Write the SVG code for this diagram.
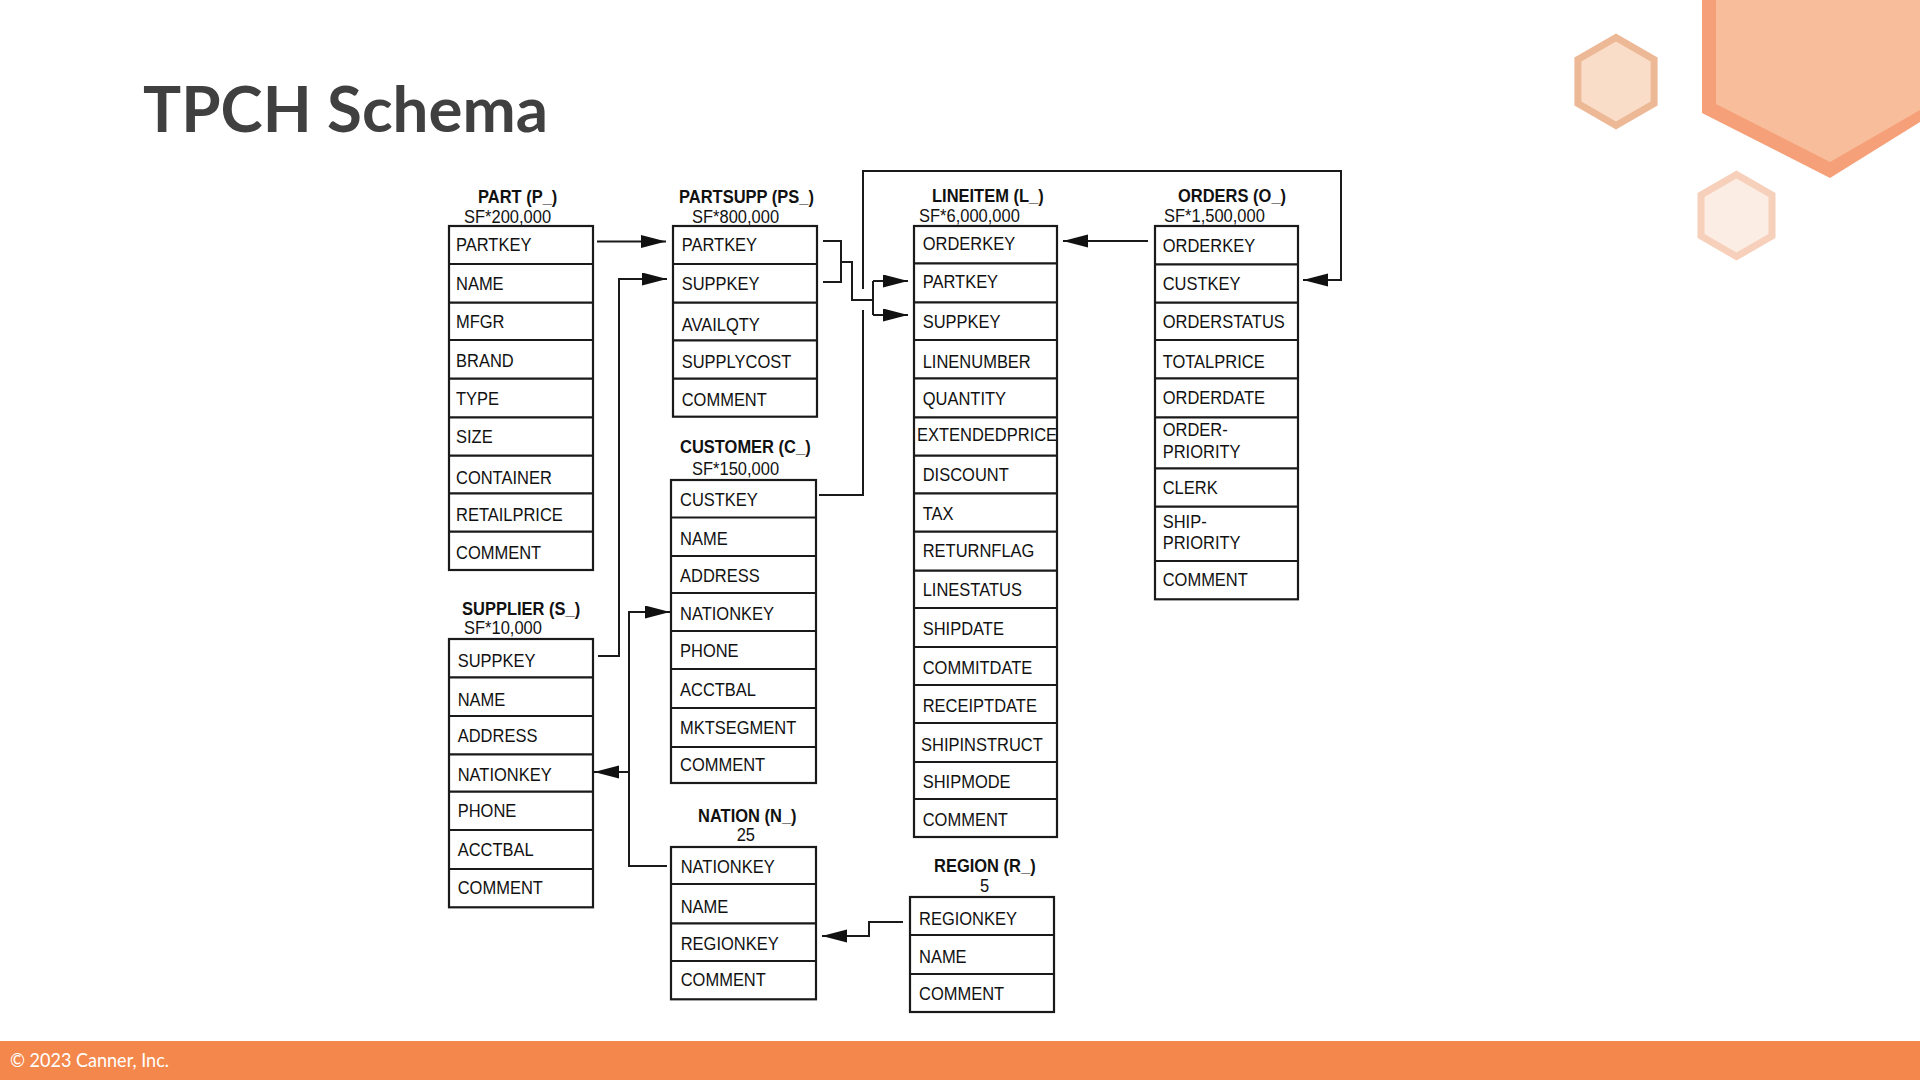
<svg xmlns="http://www.w3.org/2000/svg" width="1920" height="1080" viewBox="0 0 1920 1080">
<defs>
<style>
.t{font-family:"Liberation Sans",Arial,Helvetica,sans-serif;font-size:16.5px;fill:#111;transform-box:fill-box;transform-origin:0 100%;transform:scaleY(1.12)}
.h{font-weight:bold}
.box{fill:#fff;stroke:#1a1a1a;stroke-width:2.2}
.sep{stroke:#1a1a1a;stroke-width:2.2}
.c{fill:none;stroke:#1a1a1a;stroke-width:2}
.a{marker-end:url(#ah)}
</style>
<marker id="ah" markerUnits="userSpaceOnUse" markerWidth="26" markerHeight="14" refX="25" refY="6.5" orient="auto"><path d="M0,0 L25,6.5 L0,13 Z" fill="#111"/></marker>
</defs>
<rect width="1920" height="1080" fill="#fff"/>
<g id="decor">
<polygon points="1702,0 1702,113 1830,178 1920,122 1920,0" fill="#F5A078"/>
<polygon points="1716,0 1716,104 1830,162 1920,110 1920,0" fill="#F8BE9C"/>
<polygon points="1616,37.5 1654.1,59.5 1654.1,103.5 1616,125.5 1577.9,103.5 1577.9,59.5" fill="#FADDC9" stroke="#EDB895" stroke-width="7"/>
<polygon points="1736.5,174.5 1772,195 1772,236 1736.5,256.5 1701,236 1701,195" fill="#FCEDE4" stroke="#F6D0BA" stroke-width="7"/>
</g>
<text x="143" y="132" font-family="Lato,'Open Sans',sans-serif" font-weight="700" font-size="63" fill="#404040" textLength="405" lengthAdjust="spacingAndGlyphs">TPCH Schema</text>
<g id="connectors">
<path class="c a" d="M597,241.5 H666"/>
<path class="c a" d="M598,656 H619 V279 H667"/>
<path class="c" d="M823,241 H841 V282 H823 M841,262 H852 V300 H873 M873,281 V315"/>
<path class="c a" d="M873,281 H908"/>
<path class="c a" d="M873,315 H908"/>
<path class="c" d="M819,495 H863 V310"/>
<path class="c a" d="M863,289 V171 H1341 V280 H1303"/>
<path class="c a" d="M1148,241 H1063"/>
<path class="c a" d="M667,866 H629 V612 H670"/>
<path class="c a" d="M629,772 H594"/>
<path class="c a" d="M903,922 H869 V936 H822"/>
</g>
<g id="part">
<text class="t h" x="478" y="203">PART (P_)</text>
<text class="t" x="464" y="223">SF*200,000</text>
<rect class="box" x="449" y="226" width="144" height="344"/>
<path class="sep" d="M449,264H593M449,302.7H593M449,340H593M449,378.7H593M449,417.3H593M449,455.7H593M449,493.3H593M449,531.7H593"/>
<text class="t" x="456" y="251.7">PARTKEY</text>
<text class="t" x="456" y="290">NAME</text>
<text class="t" x="456" y="328.3">MFGR</text>
<text class="t" x="456" y="367.7">BRAND</text>
<text class="t" x="456" y="405">TYPE</text>
<text class="t" x="456" y="443.3">SIZE</text>
<text class="t" x="456" y="484.3">CONTAINER</text>
<text class="t" x="456" y="521">RETAILPRICE</text>
<text class="t" x="456" y="559.3">COMMENT</text>
</g>
<g id="partsupp">
<text class="t h" x="679" y="203">PARTSUPP (PS_)</text>
<text class="t" x="692" y="223">SF*800,000</text>
<rect class="box" x="673" y="226" width="144" height="190.7"/>
<path class="sep" d="M673,264H817M673,302.7H817M673,340.3H817M673,378.7H817"/>
<text class="t" x="681.7" y="251.7">PARTKEY</text>
<text class="t" x="681.7" y="290">SUPPKEY</text>
<text class="t" x="681.7" y="331.7">AVAILQTY</text>
<text class="t" x="681.7" y="368.3">SUPPLYCOST</text>
<text class="t" x="681.7" y="406.7">COMMENT</text>
</g>
<g id="customer">
<text class="t h" x="680" y="453">CUSTOMER (C_)</text>
<text class="t" x="692" y="475">SF*150,000</text>
<rect class="box" x="671" y="480" width="145" height="303"/>
<path class="sep" d="M671,517.5H816M671,556H816M671,593H816M671,631H816M671,669H816M671,708H816M671,747H816"/>
<text class="t" x="680" y="506.7">CUSTKEY</text>
<text class="t" x="680" y="545">NAME</text>
<text class="t" x="680" y="582.3">ADDRESS</text>
<text class="t" x="680" y="620.7">NATIONKEY</text>
<text class="t" x="680" y="657.7">PHONE</text>
<text class="t" x="680" y="696">ACCTBAL</text>
<text class="t" x="680" y="734">MKTSEGMENT</text>
<text class="t" x="680" y="771.7">COMMENT</text>
</g>
<g id="supplier">
<text class="t h" x="462" y="615">SUPPLIER (S_)</text>
<text class="t" x="464" y="634">SF*10,000</text>
<rect class="box" x="449" y="639" width="144" height="268.3"/>
<path class="sep" d="M449,677.3H593M449,716H593M449,754.3H593M449,791.7H593M449,830H593M449,869H593"/>
<text class="t" x="457.7" y="667.3">SUPPKEY</text>
<text class="t" x="457.7" y="706">NAME</text>
<text class="t" x="457.7" y="742.3">ADDRESS</text>
<text class="t" x="457.7" y="781.7">NATIONKEY</text>
<text class="t" x="457.7" y="817.7">PHONE</text>
<text class="t" x="457.7" y="856">ACCTBAL</text>
<text class="t" x="457.7" y="894">COMMENT</text>
</g>
<g id="nation">
<text class="t h" x="698" y="822.3">NATION (N_)</text>
<text class="t" x="736.7" y="841">25</text>
<rect class="box" x="671" y="847" width="145" height="152.3"/>
<path class="sep" d="M671,884H816M671,923.3H816M671,961H816"/>
<text class="t" x="680.7" y="873.3">NATIONKEY</text>
<text class="t" x="680.7" y="913.3">NAME</text>
<text class="t" x="680.7" y="950.7">REGIONKEY</text>
<text class="t" x="680.7" y="986">COMMENT</text>
</g>
<g id="lineitem">
<text class="t h" x="932" y="202.3">LINEITEM (L_)</text>
<text class="t" x="919" y="222.7">SF*6,000,000</text>
<rect class="box" x="914" y="226" width="143" height="611"/>
<path class="sep" d="M914,263.3H1057M914,302.3H1057M914,340H1057M914,378.3H1057M914,417.3H1057M914,455.7H1057M914,493.3H1057M914,531.7H1057M914,570.7H1057M914,608H1057M914,647H1057M914,685H1057M914,723H1057M914,762H1057M914,799H1057"/>
<text class="t" x="922.7" y="250">ORDERKEY</text>
<text class="t" x="922.7" y="288.3">PARTKEY</text>
<text class="t" x="922.7" y="328.3">SUPPKEY</text>
<text class="t" x="922.7" y="368.3">LINENUMBER</text>
<text class="t" x="922.7" y="405">QUANTITY</text>
<text class="t" x="917" y="441.7">EXTENDEDPRICE</text>
<text class="t" x="922.7" y="481.7">DISCOUNT</text>
<text class="t" x="922.7" y="520.7">TAX</text>
<text class="t" x="922.7" y="557.7">RETURNFLAG</text>
<text class="t" x="922.7" y="596.7">LINESTATUS</text>
<text class="t" x="922.7" y="635">SHIPDATE</text>
<text class="t" x="922.7" y="674">COMMITDATE</text>
<text class="t" x="922.7" y="712.7">RECEIPTDATE</text>
<text class="t" x="921" y="751.7">SHIPINSTRUCT</text>
<text class="t" x="922.7" y="788.3">SHIPMODE</text>
<text class="t" x="922.7" y="826.7">COMMENT</text>
</g>
<g id="orders">
<text class="t h" x="1178" y="202.3">ORDERS (O_)</text>
<text class="t" x="1164" y="222.7">SF*1,500,000</text>
<rect class="box" x="1155" y="226" width="143" height="373.3"/>
<path class="sep" d="M1155,264.3H1298M1155,302.7H1298M1155,340H1298M1155,378.3H1298M1155,417.3H1298M1155,468.3H1298M1155,506.7H1298M1155,561H1298"/>
<text class="t" x="1162.7" y="252">ORDERKEY</text>
<text class="t" x="1162.7" y="290">CUSTKEY</text>
<text class="t" x="1162.7" y="328">ORDERSTATUS</text>
<text class="t" x="1162.7" y="368.3">TOTALPRICE</text>
<text class="t" x="1162.7" y="404">ORDERDATE</text>
<text class="t" x="1162.7" y="436">ORDER-</text>
<text class="t" x="1162.7" y="458">PRIORITY</text>
<text class="t" x="1162.7" y="494">CLERK</text>
<text class="t" x="1162.7" y="528">SHIP-</text>
<text class="t" x="1162.7" y="549">PRIORITY</text>
<text class="t" x="1162.7" y="586.7">COMMENT</text>
</g>
<g id="region">
<text class="t h" x="934" y="872.7">REGION (R_)</text>
<text class="t" x="980" y="892">5</text>
<rect class="box" x="910" y="897" width="144" height="115"/>
<path class="sep" d="M910,935H1054M910,974H1054"/>
<text class="t" x="919" y="925">REGIONKEY</text>
<text class="t" x="919" y="963.3">NAME</text>
<text class="t" x="919" y="1000.7">COMMENT</text>
</g>
<g id="footer">
<rect x="0" y="1041" width="1920" height="39" fill="#F4874B"/>
<text x="10" y="1067" font-family="Lato,'Open Sans',sans-serif" font-size="19" fill="#fff" textLength="159" lengthAdjust="spacingAndGlyphs">© 2023 Canner, Inc.</text>
</g>
</svg>
